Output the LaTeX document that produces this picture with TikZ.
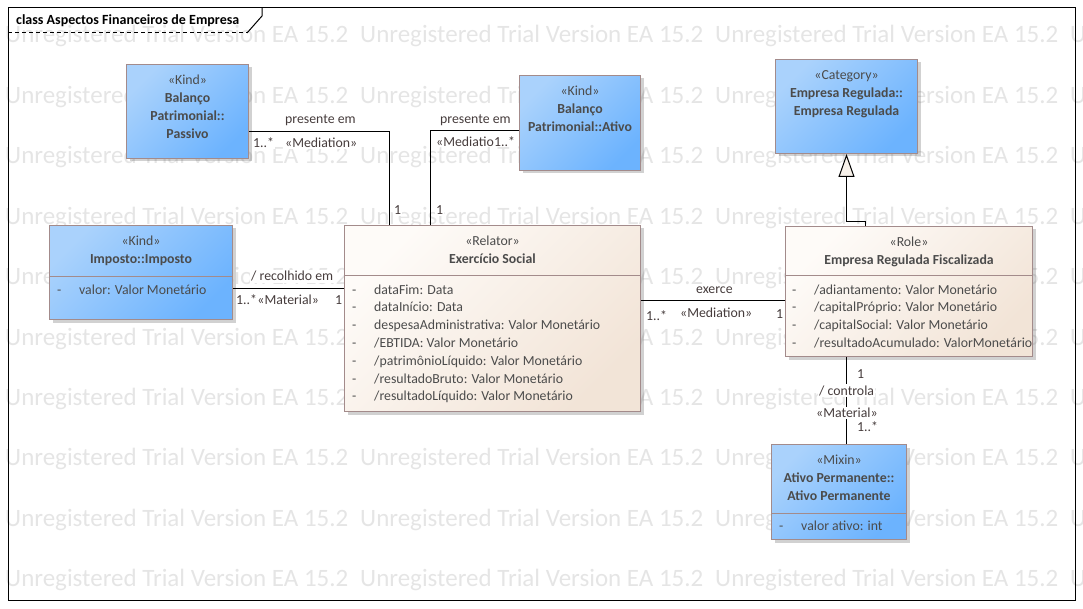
\documentclass[tikz,border=0pt]{standalone}
\usepackage{fontspec}
\setmainfont{Carlito}
\usetikzlibrary{positioning,shadows,arrows.meta}
\definecolor{kindlight}{HTML}{AAD2FC}
\definecolor{kinddeep}{HTML}{6CB3FE}
\definecolor{relatorlight}{HTML}{FEFBF8}
\definecolor{relatordeep}{HTML}{F2E4D7}
\definecolor{boxedge}{HTML}{A38B8B}
\definecolor{boxtext}{HTML}{4B4B4B}
\definecolor{linktext}{HTML}{463C3C}
\definecolor{trialgray}{HTML}{E5E5E5}
\definecolor{genfill}{HTML}{F7F1EA}
\newcommand{\ster}[1]{\strut«#1»}
\newcommand{\attr}[1]{\strut\makebox[22pt][l]{-}#1}

\tikzset{
    umlbox/.style={draw=boxedge, line width=1pt, anchor=north west, inner sep=0pt,
        drop shadow={shadow xshift=3pt, shadow yshift=-3pt, opacity=0.3, fill=black!60}},
    kindbox/.style={umlbox, top color=kindlight, bottom color=kinddeep, shading angle=45},
    relatorbox/.style={umlbox, top color=relatorlight, bottom color=relatordeep, shading angle=45},
    hdr/.style={align=center, inner sep=0pt, text=boxtext, font=\fontsize{13.8}{18}\selectfont},
    attrs/.style={align=left, inner sep=0pt, anchor=north west, text=boxtext, font=\fontsize{13.8}{17.8}\selectfont},
    lbl/.style={anchor=base west, inner sep=1pt, fill=white, text=linktext, font=\fontsize{13.8}{16}\selectfont},
    link/.style={line width=1pt},
    trial/.style={anchor=base west, inner sep=0pt, text=trialgray, font=\fontsize{25}{30}\selectfont},
}

\begin{document}
\begin{tikzpicture}[x=1pt, y=-1pt]
    \useasboundingbox (0,0) rectangle (1083,609);
    % trial watermark rows
    \foreach \row in {0,...,9} {
        \foreach \col in {0,1,2} {
            \node[trial] (wm-\row-\col) at (5+355*\col, 43+60.4*\row) {Unregistered Trial Version EA 15.2};
        }
        \node[trial] (wm-\row-3) at (1070, 43+60.4*\row) {U};
    }

    % diagram frame and title tab
    \draw[line width=1pt] (8,8) rectangle (1075,600);
    \draw[line width=1pt, dash pattern=on 4pt off 3pt] (8,33) -- (247,33);
    \draw[line width=1pt] (247,33) -- (262,16) -- (262,8);
    \node[anchor=base west, inner sep=0pt, font=\bfseries\fontsize{14}{16}\selectfont] (titulo) at (16,25) {class Aspectos Financeiros de Empresa};

    % classes
    \node[kindbox, minimum width=122pt, minimum height=94pt] (passivo) at (126,64) {};
    \node[hdr, below=7.9pt of passivo.north] (passivo-txt) {\ster{Kind}\\\textbf{Balanço}\\\textbf{Patrimonial::}\\\textbf{Passivo}};

    \node[kindbox, minimum width=121pt, minimum height=95pt] (ativo) at (519,75) {};
    \node[hdr, below=7.9pt of ativo.north] (ativo-txt) {\ster{Kind}\\\textbf{Balanço}\\\textbf{Patrimonial::Ativo}};

    \node[kindbox, minimum width=142pt, minimum height=94pt] (categoria) at (775,59) {};
    \node[hdr, below=7.9pt of categoria.north] (categoria-txt) {\ster{Category}\\\textbf{Empresa Regulada::}\\\textbf{Empresa Regulada}};

    \node[kindbox, minimum width=183pt, minimum height=94pt] (imposto) at (49,225) {};
    \node[hdr, below=7.9pt of imposto.north] (imposto-txt) {\ster{Kind}\\\textbf{Imposto::Imposto}};
    \draw[boxedge, line width=1pt] (imposto.west |- 0,277) -- (imposto.east |- 0,277);
    \node[attrs] (imposto-attr) at (57,281.5) {\attr{valor: Valor Monetário}};

    \node[relatorbox, minimum width=296pt, minimum height=186pt] (exercicio) at (344,225) {};
    \node[hdr, below=7.9pt of exercicio.north] (exercicio-txt) {\ster{Relator}\\\textbf{Exercício Social}};
    \draw[boxedge, line width=1pt] (exercicio.west |- 0,276) -- (exercicio.east |- 0,276);
    \node[attrs] (exercicio-attr) at (352,281.5) {\attr{dataFim: Data}\\\attr{dataInício: Data}\\\attr{despesaAdministrativa: Valor Monetário}\\\attr{/EBTIDA: Valor Monetário}\\\attr{/patrimônioLíquido: Valor Monetário}\\\attr{/resultadoBruto: Valor Monetário}\\\attr{/resultadoLíquido: Valor Monetário}};

    \node[relatorbox, minimum width=247pt, minimum height=130pt] (fiscalizada) at (785,226) {};
    \node[hdr, below=7.9pt of fiscalizada.north] (fiscalizada-txt) {\ster{Role}\\\textbf{Empresa Regulada Fiscalizada}};
    \draw[boxedge, line width=1pt] (fiscalizada.west |- 0,276) -- (fiscalizada.east |- 0,276);
    \node[attrs] (fiscalizada-attr) at (792,281.5) {\attr{/adiantamento: Valor Monetário}\\\attr{/capitalPróprio: Valor Monetário}\\\attr{/capitalSocial: Valor Monetário}\\\attr{/resultadoAcumulado: ValorMonetário}};

    \node[kindbox, minimum width=135pt, minimum height=95pt] (permanente) at (771,444) {};
    \node[hdr, below=7.9pt of permanente.north] (permanente-txt) {\ster{Mixin}\\\textbf{Ativo Permanente::}\\\textbf{Ativo Permanente}};
    \draw[boxedge, line width=1pt] (permanente.west |- 0,513) -- (permanente.east |- 0,513);
    \node[attrs] (permanente-attr) at (779,517.5) {\attr{valor ativo: int}};

    % associations
    \draw[link] ([yshift=-20pt]passivo.east) -| ([xshift=-103pt]exercicio.north);
    \draw[link] ([yshift=-7.5pt]ativo.west) -| ([xshift=-62pt]exercicio.north);
    \draw[link] ([yshift=-16pt]imposto.east) -- ([yshift=30pt]exercicio.west);
    \draw[link] ([yshift=18pt]exercicio.east) -- ([yshift=-9pt]fiscalizada.west);
    \draw[link, -{Triangle[length=23pt, width=16pt, fill=genfill]}] ([xshift=-43.5pt]fiscalizada.north) -- ++(0,-4) -| (categoria.south);
    \draw[link] ([xshift=-62.5pt]fiscalizada.south) -- ([xshift=7.5pt]permanente.north);

    % association labels
    \node[lbl] (pres-a) at (284,123.5) {presente em};
    \node[lbl] (pres-a-n) at (252,148) {1..*};
    \node[lbl] (pres-a-s) at (284,148) {«Mediation»};
    \node[lbl] (pres-a-1) at (393,215) {1};
    \node[lbl] (pres-b) at (439,123.5) {presente em};
    \node[lbl, inner sep=0pt] (pres-b-s) at (436,147) {«Mediatio};
    \node[lbl, inner sep=0pt, right=0pt of pres-b-s.base east, anchor=base west] (pres-b-n) {1..*};
    \node[lbl] (pres-b-1) at (435,215) {1};
    \node[lbl] (recol) at (250,281) {/ recolhido em};
    \node[lbl, inner sep=0pt] (recol-n) at (236,305) {1..*};
    \node[lbl, inner sep=0pt, right=0pt of recol-n.base east, anchor=base west] (recol-s) {«Material»};
    \node[lbl] (recol-1) at (334,305) {1};
    \node[lbl] (exerce) at (695,294) {exerce};
    \node[lbl] (exerce-n) at (645,320) {1..*};
    \node[lbl] (exerce-s) at (679,317) {«Mediation»};
    \node[lbl] (exerce-1) at (775,319) {1};
    \node[lbl] (controla-1) at (856,378) {1};
    \node[lbl] (controla) at (818,395) {/ controla};
    \node[lbl] (controla-s) at (815,417.5) {«Material»};
    \node[lbl] (controla-n) at (856,431.5) {1..*};
\end{tikzpicture}
\end{document}
